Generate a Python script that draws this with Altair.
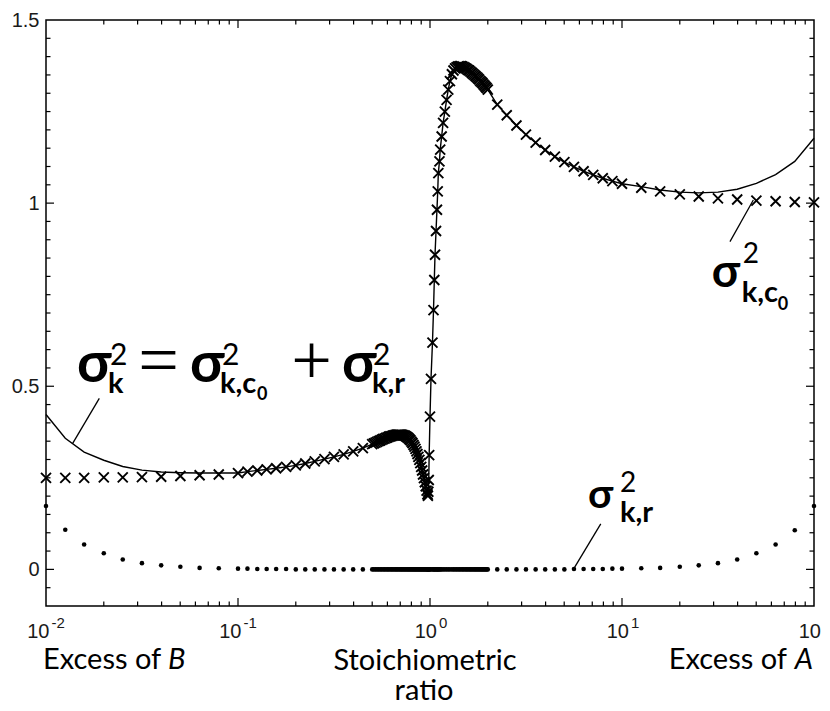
import altair as alt
import pandas as pd

# ---------------- data ----------------
# sampling positions of the stoichiometric ratio (x, log axis)
X_B = [0.01, 0.0126, 0.0158, 0.02, 0.0251, 0.0316, 0.0398, 0.0501, 0.0631, 0.0794]
X_LOW = [0.1, 0.112, 0.126, 0.141, 0.158, 0.178, 0.2, 0.224, 0.251, 0.282,
         0.316, 0.355, 0.398, 0.447]
X_MID = [0.50, 0.51, 0.52, 0.53, 0.54, 0.55, 0.56, 0.57, 0.58, 0.59,
         0.60, 0.61, 0.62, 0.63, 0.64, 0.65, 0.66, 0.67, 0.68, 0.69,
         0.70, 0.71, 0.72, 0.73, 0.74, 0.75, 0.76, 0.77, 0.78, 0.79,
         0.80, 0.81, 0.82, 0.83, 0.84, 0.85, 0.86, 0.87, 0.88, 0.89,
         0.90, 0.91, 0.92, 0.93, 0.94, 0.95, 0.96, 0.97, 0.975, 0.98,
         0.985, 0.99, 1.00, 1.012, 1.03, 1.043, 1.053, 1.062, 1.075, 1.087,
         1.097, 1.105, 1.12, 1.13, 1.15, 1.17, 1.195, 1.22, 1.245, 1.27,
         1.30, 1.325, 1.35, 1.375, 1.40, 1.425, 1.45, 1.475, 1.50, 1.525,
         1.55, 1.575, 1.60, 1.625, 1.65, 1.675, 1.70, 1.725, 1.75, 1.775,
         1.80, 1.825, 1.85, 1.875, 1.90, 1.925, 1.95, 1.975, 2.00]
X_HIGH = [2.24, 2.51, 2.82, 3.16, 3.55, 3.98, 4.47, 5.01, 5.62, 6.31,
          7.08, 7.94, 8.91, 10.0]
X_A = [12.6, 15.8, 20.0, 25.1, 31.6, 39.8, 50.1, 63.1, 79.4, 100.0]

# sigma^2_{k,c0}  (x markers)
C0_B = [0.250, 0.250, 0.250, 0.251, 0.251, 0.252, 0.253, 0.255, 0.257, 0.259]
C0_LOW = [0.263, 0.267, 0.270, 0.273, 0.276, 0.280, 0.284, 0.289, 0.295, 0.301,
          0.307, 0.314, 0.322, 0.331]
C0_MID = [0.342, 0.344, 0.346, 0.348, 0.350, 0.352, 0.354, 0.356, 0.357, 0.359,
          0.360, 0.362, 0.363, 0.364, 0.365, 0.366, 0.367, 0.368, 0.368, 0.368,
          0.368, 0.368, 0.367, 0.366, 0.365, 0.363, 0.361, 0.359, 0.356, 0.353,
          0.349, 0.345, 0.340, 0.335, 0.329, 0.322, 0.315, 0.307, 0.299, 0.290,
          0.280, 0.270, 0.259, 0.249, 0.238, 0.227, 0.215, 0.205, 0.201, 0.212,
          0.244, 0.312, 0.417, 0.520, 0.619, 0.708, 0.790, 0.859, 0.924, 0.982,
          1.032, 1.082, 1.114, 1.146, 1.182, 1.219, 1.250, 1.282, 1.310, 1.333,
          1.352, 1.362, 1.368, 1.371, 1.373, 1.374, 1.374, 1.373, 1.371, 1.369,
          1.367, 1.364, 1.362, 1.359, 1.356, 1.353, 1.350, 1.347, 1.344, 1.341,
          1.338, 1.334, 1.331, 1.328, 1.324, 1.321, 1.317, 1.314, 1.310]
C0_HIGH = [1.269, 1.240, 1.212, 1.187, 1.165, 1.145, 1.127, 1.112, 1.099, 1.087,
           1.077, 1.068, 1.060, 1.053]
C0_A = [1.042, 1.032, 1.024, 1.018, 1.013, 1.010, 1.007, 1.005, 1.003, 1.002]

# sigma^2_{k,r}  (dots)
R_B = [0.173, 0.108, 0.068, 0.044, 0.027, 0.017, 0.011, 0.007, 0.004, 0.003]
R_LOW = [0.002, 0.002, 0.001, 0.001, 0.001, 0.001, 0.0, 0.0, 0.0, 0.0,
         0.0, 0.0, 0.0, 0.0]
R_MID = [0.0] * len(X_MID)          # reads as zero across the dense region
R_HIGH = [0.0, 0.0, 0.0, 0.0, 0.0, 0.0, 0.0, 0.0, 0.001, 0.001,
          0.001, 0.001, 0.002, 0.002]
R_A = [0.003, 0.004, 0.007, 0.011, 0.017, 0.027, 0.044, 0.068, 0.107, 0.173]

# sigma^2_k (solid line) where it separates from the markers
TOTAL_B = [0.423, 0.358, 0.320, 0.298, 0.281, 0.271, 0.266, 0.264, 0.263, 0.263]
TOTAL_A = [1.045, 1.036, 1.030, 1.028, 1.030, 1.038, 1.054, 1.078, 1.114, 1.177]

# axis ticks and labels
Y_LABELS = [0, 0.5, 1, 1.5]
Y_MAJOR = [0, 0.5, 1.0]
Y_MINOR = [round(k * 0.05, 2) for k in range(-1, 30) if k % 10 != 0]
X_MAJOR = [0.1, 1, 10]
X_MINOR = [m * 10.0 ** e for e in range(-2, 2) for m in range(2, 10)]
X_EXP_NEG = {"x": [0.01, 0.1], "exp": ["-2", "-1"]}
X_EXP_POS = {"x": [1, 10, 100], "exp": ["0", "1", "2"]}

# ---------------- tables ----------------
c0_df = pd.DataFrame({"x": X_B + X_LOW + X_MID + X_HIGH + X_A,
                      "y": C0_B + C0_LOW + C0_MID + C0_HIGH + C0_A})
r_df = pd.DataFrame({"x": X_B + X_LOW + X_MID + X_HIGH + X_A,
                     "y": R_B + R_LOW + R_MID + R_HIGH + R_A})
tot_df = pd.DataFrame({"x": X_B + X_LOW + X_MID + X_HIGH + X_A,
                       "y": TOTAL_B + C0_LOW + C0_MID + C0_HIGH + TOTAL_A})

W, H = 768, 586
xscale = alt.Scale(type="log", domain=[0.01, 100], nice=False)
yscale = alt.Scale(domain=[-0.1, 1.5], nice=False, zero=False)
yaxis = alt.Axis(values=Y_LABELS, format="~g", title=None, grid=False,
                 ticks=False, tickSize=0, domain=False, labelPadding=7,
                 labelFont="Liberation Sans", labelFontSize=20,
                 labelColor="#1a1a1a", labelFlush=False, labelOverlap=False)


def X(f="x"):
    return alt.X(f"{f}:Q", scale=xscale, axis=None)


def Y(f="y"):
    return alt.Y(f"{f}:Q", scale=yscale, axis=yaxis)


layers = []

# solid line sigma_k^2
layers.append(alt.Chart(tot_df).mark_line(color="black", strokeWidth=1.4)
              .encode(x=X(), y=Y()))
# x markers sigma_{k,c0}^2
layers.append(alt.Chart(c0_df).mark_point(
    shape="M-1,-1L1,1M-1,1L1,-1", filled=False, size=100, strokeWidth=1.9,
    color="black", opacity=1).encode(x=X(), y=Y()))
# dots sigma_{k,r}^2
layers.append(alt.Chart(r_df).mark_circle(size=21, color="black", opacity=1)
              .encode(x=X(), y=Y()))

# inward ticks
ymin_df = pd.DataFrame({"y": Y_MINOR})
ymaj_df = pd.DataFrame({"y": Y_MAJOR})
xmin_df = pd.DataFrame({"x": X_MINOR})
xmaj_df = pd.DataFrame({"x": X_MAJOR})
tk = dict(color="black", strokeWidth=1.2)
for df, ln in [(ymin_df, 4.5), (ymaj_df, 8)]:
    layers.append(alt.Chart(df).mark_rule(**tk).encode(
        y=Y(), x=alt.value(0), x2=alt.value(ln)))
    layers.append(alt.Chart(df).mark_rule(**tk).encode(
        y=Y(), x=alt.value(W), x2=alt.value(W - ln)))
for df, ln in [(xmin_df, 4.5), (xmaj_df, 8)]:
    layers.append(alt.Chart(df).mark_rule(**tk).encode(
        x=X(), y=alt.value(0), y2=alt.value(ln)))
    layers.append(alt.Chart(df).mark_rule(**tk).encode(
        x=X(), y=alt.value(H), y2=alt.value(H - ln)))

# x tick labels 10^n
for d, dx10 in [(X_EXP_NEG, 3.5), (X_EXP_POS, 7)]:
    df = pd.DataFrame(d)
    layers.append(alt.Chart(df).mark_text(
        text="10", align="right", baseline="alphabetic", dx=dx10, dy=32,
        font="Liberation Sans", fontSize=20, color="#1a1a1a").encode(
        x=X(), y=alt.value(H)))
    layers.append(alt.Chart(df).mark_text(
        align="left", baseline="alphabetic", dx=dx10 + 2, dy=22,
        font="Liberation Sans", fontSize=15, color="#1a1a1a").encode(
        x=X(), y=alt.value(H), text="exp:N"))

# captions under the axis


def cap(xv, text, dx, dy, align, style="normal"):
    return alt.Chart(pd.DataFrame({"x": [xv]})).mark_text(
        text=text, dx=dx, dy=dy, align=align, baseline="alphabetic",
        font="Lato", fontSize=29, fontStyle=style, color="black").encode(
        x=X(), y=alt.value(H))


layers += [cap(0.1, "Excess of", -195, 63, "left"),
           cap(0.1, "B", -70, 63, "left", "italic"),
           cap(1, "Stoichiometric", -5, 64, "center"),
           cap(1, "ratio", -6, 94, "center"),
           cap(100, "Excess of", -27, 63, "right"),
           cap(100, "A", -1, 63, "right", "italic")]

# annotation leader lines
lead_df = pd.DataFrame({"x": [0.01895, 36.5, 7.75], "y": [0.467, 0.895, 0.124],
                        "x2": [0.01377, 48.3, 5.58], "y2": [0.344, 1.0085, 0.0]})
layers.append(alt.Chart(lead_df).mark_rule(color="black", strokeWidth=1.3).encode(
    x=X(), x2=alt.X2("x2"), y=Y(), y2=alt.Y2("y2")))

# annotation formulas
ANCH_TOTAL = pd.DataFrame({"x": [0.0145], "y": [0.5116]})
ANCH_C0 = pd.DataFrame({"x": [29.3], "y": [0.771]})
ANCH_R = pd.DataFrame({"x": [6.65], "y": [0.1676]})


def piece(df, text, dx, dy, size, weight="bold", font="Lato", align="left"):
    return alt.Chart(df).mark_text(
        text=text, dx=dx, dy=dy, fontSize=size, fontWeight=weight, font=font,
        align=align, baseline="alphabetic", color="black").encode(x=X(), y=Y())


A = ANCH_TOTAL
layers += [
    piece(A, "σ", 0, 0, 56),
    piece(A, "2", 33, -17, 30, "normal"),
    piece(A, "k", 31, 11, 29),
    piece(A, "=", 81.5, 2, 72, "normal", "Liberation Serif", "center"),
    piece(A, "σ", 113, 0, 56),
    piece(A, "2", 145, -17, 30, "normal"),
    piece(A, "k,c", 143, 11, 29),
    piece(A, "0", 180, 18, 18),
    piece(A, "+", 234.5, 2, 72, "normal", "Liberation Serif", "center"),
    piece(A, "σ", 265, 0, 56),
    piece(A, "2", 296, -17, 30, "normal"),
    piece(A, "k,r", 295, 11, 29),
]
A = ANCH_C0
layers += [
    piece(A, "σ", 0, 0, 46),
    piece(A, "2", 31, -24, 28, "normal"),
    piece(A, "k,c", 30, 15, 29),
    piece(A, "0", 66, 23, 18),
]
A = ANCH_R
layers += [
    piece(A, "σ", 0, 0, 41),
    piece(A, "2", 32, -16, 28, "normal"),
    piece(A, "k,r", 32, 14, 29),
]

chart = alt.layer(*layers).properties(
    width=W, height=H,
    padding={"left": 38, "top": 12, "right": 8, "bottom": 97},
    autosize=alt.AutoSizeParams(type="none"),
).configure_view(stroke="black", strokeWidth=1.5)

chart.save("out.html", embed_options={"renderer": "svg", "actions": False})
